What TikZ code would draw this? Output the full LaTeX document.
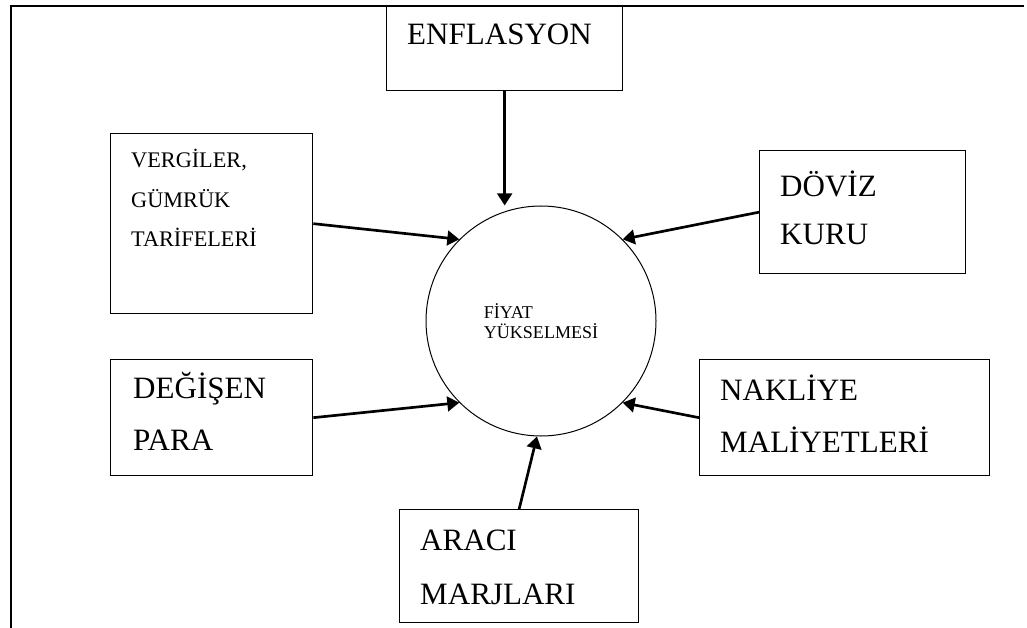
\documentclass[tikz,border=0pt]{standalone}
\usepackage{fontspec}
\setmainfont{Liberation Serif}
\usetikzlibrary{arrows.meta}
\tikzset{
  kutu/.style={draw, line width=0.4mm, inner sep=0pt, anchor=north west},
  yazi/.style={anchor=base west, inner sep=0pt, align=left, font=\fontsize{26.5}{44}\selectfont},
  ok/.style={-{Triangle[length=3.6mm,width=4.4mm]}, line width=0.8mm},
}
\begin{document}
\begin{tikzpicture}[x=0.3mm, y=-0.3mm]
    \useasboundingbox (0,0) rectangle (1027,628);
    % frame
    \draw[line width=0.5mm] (11,628) -- (11,6) -- (1024,6);
    % centre
    \node[circle, draw, line width=0.3mm, minimum size=69mm, inner sep=0pt, align=left,
      font=\fontsize{15.4}{17.1}\selectfont] (fiyat) at (541,321) {FİYAT\\YÜKSELMESİ};
    % boxes
    \node[kutu, minimum width=70.8mm, minimum height=25.2mm] (enf) at (386,6) {};
    \node[kutu, minimum width=60.6mm, minimum height=54mm] (vergi) at (110,133) {};
    \node[kutu, minimum width=61.8mm, minimum height=36.9mm] (doviz) at (759,150) {};
    \node[kutu, minimum width=60.6mm, minimum height=34.8mm] (para) at (110,359) {};
    \node[kutu, minimum width=87mm, minimum height=34.8mm] (nakliye) at (699,359) {};
    \node[kutu, minimum width=71.7mm, minimum height=33.9mm] (araci) at (399,509) {};
    % texts (anchored at the last baseline)
    \node[yazi] (enf-t) at (407,45) {ENFLASYON};
    \node[yazi, font=\fontsize{19}{34}\selectfont] (vergi-t) at (131,247) {VERGİLER,\\GÜMRÜK\\TARİFELERİ};
    \node[yazi, font=\fontsize{26.5}{41}\selectfont] (doviz-t) at (780,245) {DÖVİZ\\KURU};
    \node[yazi] (para-t) at (133,450) {DEĞİŞEN\\PARA};
    \node[yazi] (nakliye-t) at (720,452) {NAKLİYE\\MALİYETLERİ};
    \node[yazi, font=\fontsize{26.5}{46}\selectfont] (araci-t) at (420,604) {ARACI\\MARJLARI};
    % arrows
    \draw[ok] (enf.south) -- (enf.south |- fiyat.north);
    \draw[ok] (vergi.east) -- (fiyat.135);
    \draw[ok] (doviz.west) -- (fiyat.45);
    \draw[ok] (para.east) -- (fiyat.225);
    \draw[ok] (nakliye.west) -- (fiyat.315);
    \draw[ok] (araci.north) -- (fiyat.268);
\end{tikzpicture}
\end{document}
